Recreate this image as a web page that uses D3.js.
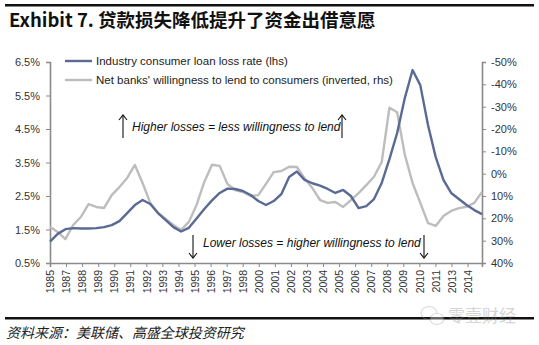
<!DOCTYPE html>
<html>
<head>
<meta charset="utf-8">
<script src="https://cdn.jsdelivr.net/npm/d3@7/dist/d3.min.js"></script>
<style>
  body { margin: 0; background: #fff; }
  text { font-family: "Liberation Sans", Arial, sans-serif; }
</style>
</head>
<body>
<svg id="chart" width="539" height="345"></svg>
<script>
// Category labels along the bottom axis
const yearLabels = ["1985","1987","1988","1989","1990","1991","1992","1993","1994","1995",
  "1996","1997","1998","2000","2001","2002","2003","2004","2005","2006","2007","2008",
  "2009","2010","2011","2013","2014"];

// Industry consumer loan loss rate, % (left axis), evenly spaced samples
const lossRate = [1.14,1.37,1.51,1.54,1.53,1.53,1.54,1.57,1.63,1.75,1.99,2.23,2.38,2.26,1.99,
  1.78,1.57,1.44,1.55,1.83,2.11,2.37,2.59,2.72,2.71,2.65,2.53,2.35,2.23,2.35,2.56,3.07,3.23,
  2.98,2.88,2.81,2.71,2.59,2.68,2.50,2.14,2.20,2.41,2.89,3.60,4.38,5.43,6.26,5.81,4.62,3.66,
  2.98,2.59,2.41,2.23,2.08,1.96];

// Net banks' willingness to lend to consumers, % (right axis, inverted)
const willingness = [23.8,26.1,29.3,23.0,19.4,13.6,14.9,15.4,9.6,6.0,1.9,-3.9,4.2,13.1,17.6,
  20.3,23.0,25.2,21.6,14.0,3.7,-4.0,-3.5,4.6,7.3,8.2,10.0,9.6,4.6,-0.7,-1.2,-3.1,-3.0,2.1,6.4,
  11.8,13.1,12.7,14.9,11.8,8.7,5.1,1.4,-5.2,-29.5,-27.5,-8.4,4.2,13.1,22.1,23.4,19.0,16.7,
  15.4,14.8,13.1,8.2];

const leftTicks = [0.5,1.5,2.5,3.5,4.5,5.5,6.5];
const rightTicks = [-50,-40,-30,-20,-10,0,10,20,30,40];

const seriesNames = ["Industry consumer loan loss rate (lhs)",
  "Net banks' willingness to lend to consumers (inverted, rhs)"];

const svg = d3.select("#chart");
const L = 50, R = 482, T = 62, B = 263;
const span = 26.9;   // axis length in label steps

const x = d3.scaleLinear().domain([0, span]).range([L, R]);
const yL = d3.scaleLinear().domain([0.5, 6.5]).range([B, T]);
const yR = d3.scaleLinear().domain([-50, 40]).range([T, B]);
const samplePos = i => i * span / (lossRate.length - 1);

const axisColor = "#8a8a8a";
const blue = "#5a6a92";
const grey = "#bdbdbd";

// Header rule and title
svg.append("rect").attr("x", 5).attr("y", 4).attr("width", 529).attr("height", 2.5).attr("fill", "#111");
svg.append("text").attr("x", 9).attr("y", 27)
  .attr("font-size", 18.5).attr("font-weight", "bold").attr("fill", "#111")
  .style("font-family", "'Noto Sans CJK SC', 'Liberation Sans', sans-serif")
  .text("Exhibit 7. 贷款损失降低提升了资金出借意愿");

// Axes
const gL = svg.append("g").attr("transform", `translate(${L},0)`)
  .call(d3.axisLeft(yL).tickValues(leftTicks).tickSize(4).tickPadding(6)
    .tickFormat(d => d.toFixed(1) + "%"));
const gR = svg.append("g").attr("transform", `translate(${R},0)`)
  .call(d3.axisRight(yR).tickValues(rightTicks).tickSize(4).tickPadding(5)
    .tickFormat(d => d + "%"));
const gB = svg.append("g").attr("transform", `translate(0,${B})`)
  .call(d3.axisBottom(x).tickValues(d3.range(yearLabels.length).concat([span]))
    .tickSize(4).tickFormat(d => yearLabels[d] || ""));

[gL, gR, gB].forEach(g => {
  g.select(".domain").attr("stroke", axisColor).attr("stroke-width", 1.6);
  g.selectAll(".tick line").attr("stroke", axisColor);
  g.selectAll(".tick text").attr("fill", "#333").attr("font-size", 11)
    .style("font-family", "'Liberation Sans', Arial, sans-serif");
});
gB.selectAll(".tick text")
  .attr("transform", "rotate(-90)")
  .attr("text-anchor", "end")
  .attr("x", -7).attr("y", 0).attr("dy", "0.35em")
  .attr("font-size", 10.5);

// Series lines
const lineL = d3.line().x((d, i) => x(samplePos(i))).y(d => yL(d));
const lineR = d3.line().x((d, i) => x(samplePos(i))).y(d => yR(d));

svg.append("path").datum(willingness).attr("d", lineR)
  .attr("fill", "none").attr("stroke", grey).attr("stroke-width", 2.4).attr("stroke-linejoin", "round");
svg.append("path").datum(lossRate).attr("d", lineL)
  .attr("fill", "none").attr("stroke", blue).attr("stroke-width", 2.4).attr("stroke-linejoin", "round");

// Legend
const legend = svg.append("g");
[[blue, 61], [grey, 80]].forEach(([c, y], i) => {
  legend.append("line").attr("x1", 65).attr("x2", 92).attr("y1", y).attr("y2", y)
    .attr("stroke", c).attr("stroke-width", 2.4);
  legend.append("text").attr("x", 96).attr("y", y + 4).attr("font-size", 11.5).attr("fill", "#222")
    .text(seriesNames[i]);
});

// Annotations
function arrow(cx, y1, y2) {
  const g = svg.append("g").attr("stroke", "#111").attr("stroke-width", 1.1).attr("fill", "none");
  g.append("line").attr("x1", cx).attr("x2", cx).attr("y1", y1).attr("y2", y2);
  const dir = y2 < y1 ? 1 : -1;
  g.append("path").attr("d", `M${cx - 4},${y2 + 5 * dir} L${cx},${y2} L${cx + 4},${y2 + 5 * dir}`);
}
arrow(123, 138, 115);
arrow(342, 138, 115);
arrow(193, 235, 258);
arrow(424, 235, 258);

svg.append("text").attr("x", 132).attr("y", 131).attr("font-size", 12).attr("font-style", "italic")
  .attr("fill", "#111").text("Higher losses = less willingness to lend");
svg.append("text").attr("x", 203).attr("y", 247).attr("font-size", 12).attr("font-style", "italic")
  .attr("fill", "#111").text("Lower losses = higher willingness to lend");

// Footer rule and source (slanted, as the CJK face has no italic)
svg.append("rect").attr("x", 5).attr("y", 317).attr("width", 529).attr("height", 2.5).attr("fill", "#111");
svg.append("g").attr("transform", "translate(6,338) skewX(-14)")
  .append("text").attr("x", 0).attr("y", 0).attr("font-size", 14)
  .attr("fill", "#222")
  .style("font-family", "'Noto Sans CJK SC', sans-serif")
  .text("资料来源：美联储、高盛全球投资研究");

// Account mark
const wm = svg.append("g").attr("opacity", 0.35);
wm.append("ellipse").attr("cx", 429).attr("cy", 313).attr("rx", 8).attr("ry", 6.5)
  .attr("fill", "none").attr("stroke", "#999").attr("stroke-width", 1.2);
wm.append("ellipse").attr("cx", 437).attr("cy", 319).attr("rx", 7).attr("ry", 5.5)
  .attr("fill", "#fff").attr("stroke", "#999").attr("stroke-width", 1.2);
wm.append("text").attr("x", 448).attr("y", 322).attr("font-size", 17).attr("fill", "#888")
  .style("font-family", "'Noto Sans CJK SC', sans-serif").text("零壹财经");
</script>
</body>
</html>
